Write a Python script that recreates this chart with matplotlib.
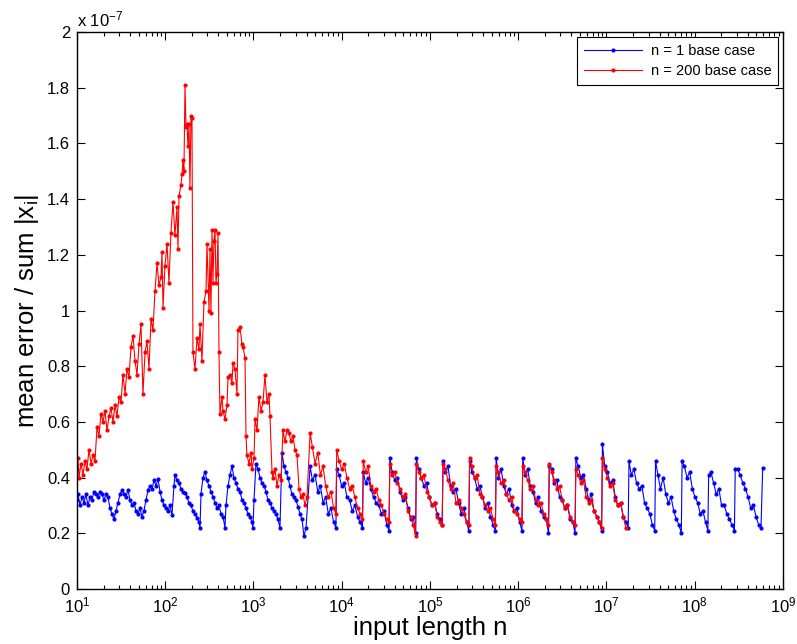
import numpy as np
import matplotlib
matplotlib.use("Agg")
import matplotlib.pyplot as plt
from matplotlib.ticker import FixedLocator, FormatStrFormatter, LogLocator

plt.rcParams['font.family'] = ['Liberation Sans', 'DejaVu Sans']
plt.rcParams['mathtext.fontset'] = 'custom'
plt.rcParams['mathtext.rm'] = 'Liberation Sans'
plt.rcParams['mathtext.it'] = 'Liberation Sans'

# log10 of input length n, and mean error / sum |x_i| in units of 1e-7
# n = 1 base case
blue_logn = [
    1.000, 1.011, 1.034, 1.057, 1.079, 1.102, 1.125, 1.147, 1.170, 1.193,
    1.215, 1.238, 1.261, 1.283, 1.306, 1.329, 1.351, 1.374, 1.397, 1.419,
    1.442, 1.465, 1.487, 1.510, 1.533, 1.555, 1.578, 1.601, 1.623, 1.646,
    1.669, 1.691, 1.714, 1.737, 1.759, 1.782, 1.805, 1.827, 1.850, 1.873,
    1.895, 1.918, 1.941, 1.963, 1.986, 2.008, 2.031, 2.054, 2.076, 2.099,
    2.110, 2.133, 2.156, 2.178, 2.201, 2.224, 2.246, 2.269, 2.292, 2.314,
    2.337, 2.360, 2.382, 2.394, 2.405, 2.428, 2.450, 2.473, 2.496, 2.518,
    2.541, 2.564, 2.586, 2.609, 2.632, 2.654, 2.677, 2.688, 2.711, 2.734,
    2.756, 2.779, 2.802, 2.824, 2.847, 2.870, 2.892, 2.915, 2.938, 2.960,
    2.983, 2.994, 3.006, 3.028, 3.051, 3.074, 3.096, 3.119, 3.142, 3.164,
    3.187, 3.210, 3.232, 3.255, 3.278, 3.300, 3.323, 3.346, 3.368, 3.391,
    3.414, 3.436, 3.459, 3.482, 3.504, 3.527, 3.550, 3.572, 3.595,
    3.642, 3.668, 3.698, 3.728, 3.758, 3.788, 3.818, 3.848, 3.878, 3.908, 3.934,
    3.943, 3.969, 3.999, 4.029, 4.059, 4.089, 4.119, 4.149, 4.179, 4.209, 4.235,
    4.244, 4.270, 4.300, 4.330, 4.360, 4.390, 4.420, 4.450, 4.480, 4.510, 4.536,
    4.545, 4.571, 4.601, 4.631, 4.661, 4.691, 4.721, 4.751, 4.781, 4.811, 4.837,
    4.846, 4.872, 4.902, 4.932, 4.962, 4.992, 5.022, 5.052, 5.082, 5.112, 5.138,
    5.148, 5.174, 5.204, 5.234, 5.264, 5.294, 5.324, 5.354, 5.384, 5.414, 5.440,
    5.449, 5.475, 5.505, 5.535, 5.565, 5.595, 5.625, 5.655, 5.685, 5.715, 5.741,
    5.750, 5.776, 5.806, 5.836, 5.866, 5.896, 5.926, 5.956, 5.986, 6.016, 6.042,
    6.051, 6.077, 6.107, 6.137, 6.167, 6.197, 6.227, 6.257, 6.287, 6.317, 6.343,
    6.352, 6.378, 6.408, 6.438, 6.468, 6.498, 6.528, 6.558, 6.588, 6.618, 6.644,
    6.653, 6.679, 6.709, 6.739, 6.769, 6.799, 6.829, 6.859, 6.889, 6.919, 6.945,
    6.954, 6.980, 7.010, 7.040, 7.070, 7.100, 7.130, 7.160, 7.190, 7.220, 7.246,
    7.255, 7.281, 7.311, 7.341, 7.371, 7.401, 7.431, 7.461, 7.491, 7.521, 7.547,
    7.556, 7.582, 7.612, 7.642, 7.672, 7.702, 7.732, 7.762, 7.792, 7.822, 7.848,
    7.857, 7.883, 7.913, 7.943, 7.973, 8.003, 8.033, 8.063, 8.093, 8.123, 8.149,
    8.158, 8.184, 8.214, 8.244, 8.274, 8.304, 8.334, 8.364, 8.394, 8.424, 8.450,
    8.459, 8.485, 8.515, 8.545, 8.575, 8.605, 8.635, 8.665, 8.695, 8.725, 8.751,
    8.770,
]
blue_err = [
    0.32, 0.34, 0.30, 0.33, 0.31, 0.34, 0.30, 0.33, 0.32, 0.35,
    0.34, 0.33, 0.35, 0.34, 0.32, 0.34, 0.33, 0.29, 0.27, 0.25,
    0.28, 0.31, 0.34, 0.355, 0.34, 0.33, 0.355, 0.32, 0.30, 0.31,
    0.28, 0.27, 0.29, 0.26, 0.28, 0.32, 0.355, 0.37, 0.36, 0.39,
    0.37, 0.395, 0.35, 0.32, 0.30, 0.29, 0.28, 0.30, 0.265, 0.37,
    0.41, 0.39, 0.38, 0.36, 0.35, 0.345, 0.33, 0.31, 0.30, 0.28,
    0.27, 0.255, 0.24, 0.22, 0.34, 0.40, 0.42, 0.39, 0.37, 0.35,
    0.33, 0.31, 0.29, 0.30, 0.27, 0.26, 0.22, 0.30, 0.37, 0.41,
    0.44, 0.40, 0.38, 0.36, 0.35, 0.32, 0.31, 0.29, 0.27, 0.26,
    0.24, 0.22, 0.32, 0.45, 0.43, 0.40, 0.38, 0.37, 0.35, 0.32,
    0.31, 0.29, 0.28, 0.27, 0.25, 0.22, 0.49, 0.44, 0.42, 0.40,
    0.37, 0.34, 0.33, 0.32, 0.295, 0.27, 0.25, 0.19, 0.22,
    0.44, 0.39, 0.41, 0.35, 0.37, 0.31, 0.33, 0.27, 0.29, 0.24, 0.22,
    0.43, 0.41, 0.37, 0.38, 0.33, 0.32, 0.28, 0.30, 0.26, 0.24, 0.22,
    0.42, 0.38, 0.40, 0.36, 0.33, 0.31, 0.30, 0.27, 0.28, 0.23, 0.21,
    0.47, 0.42, 0.39, 0.40, 0.35, 0.32, 0.33, 0.29, 0.25, 0.26, 0.20,
    0.47, 0.43, 0.40, 0.37, 0.38, 0.33, 0.30, 0.31, 0.27, 0.25, 0.23,
    0.46, 0.42, 0.44, 0.37, 0.35, 0.36, 0.31, 0.27, 0.29, 0.24, 0.21,
    0.46, 0.42, 0.40, 0.36, 0.37, 0.33, 0.29, 0.31, 0.26, 0.23, 0.21,
    0.47, 0.40, 0.43, 0.37, 0.34, 0.36, 0.30, 0.28, 0.29, 0.24, 0.21,
    0.47, 0.41, 0.43, 0.37, 0.35, 0.31, 0.33, 0.28, 0.26, 0.25, 0.20,
    0.44, 0.43, 0.38, 0.39, 0.33, 0.32, 0.29, 0.30, 0.25, 0.24, 0.20,
    0.47, 0.44, 0.40, 0.41, 0.36, 0.32, 0.34, 0.28, 0.26, 0.24, 0.21,
    0.52, 0.44, 0.42, 0.38, 0.39, 0.33, 0.30, 0.31, 0.26, 0.24, 0.22,
    0.46, 0.41, 0.43, 0.38, 0.36, 0.37, 0.31, 0.29, 0.27, 0.23, 0.21,
    0.46, 0.41, 0.36, 0.40, 0.34, 0.31, 0.33, 0.28, 0.25, 0.23, 0.20,
    0.46, 0.44, 0.40, 0.42, 0.36, 0.33, 0.31, 0.27, 0.28, 0.24, 0.21,
    0.41, 0.42, 0.38, 0.34, 0.36, 0.30, 0.30, 0.27, 0.25, 0.23, 0.21,
    0.43, 0.43, 0.41, 0.38, 0.36, 0.33, 0.29, 0.30, 0.26, 0.23, 0.22,
    0.435,
]

# n = 200 base case
red_logn = [
    1.000, 1.011, 1.023, 1.045, 1.068, 1.091, 1.113, 1.136, 1.159, 1.181,
    1.204, 1.227, 1.249, 1.272, 1.295, 1.317, 1.340, 1.363, 1.385, 1.408,
    1.431, 1.453, 1.476, 1.499, 1.521, 1.544, 1.567, 1.589, 1.612, 1.635,
    1.657, 1.680, 1.703, 1.725, 1.748, 1.771, 1.793, 1.816, 1.839, 1.861,
    1.884, 1.907, 1.929, 1.952, 1.963, 1.975, 1.997, 2.020, 2.042, 2.065,
    2.088, 2.110, 2.133, 2.144, 2.156, 2.178, 2.190, 2.201, 2.212, 2.224,
    2.235, 2.246, 2.258, 2.269, 2.280, 2.292, 2.303, 2.314, 2.337, 2.360,
    2.382, 2.394, 2.416, 2.439, 2.462, 2.473, 2.496, 2.507, 2.518, 2.530,
    2.541, 2.552, 2.564, 2.575, 2.586, 2.598, 2.609, 2.620, 2.643, 2.654,
    2.677, 2.700, 2.711, 2.734, 2.756, 2.768, 2.790, 2.813, 2.824, 2.847,
    2.870, 2.881, 2.904, 2.915, 2.926, 2.949, 2.972, 2.983, 3.006, 3.017,
    3.040, 3.062, 3.085, 3.108, 3.130, 3.153, 3.176, 3.187, 3.210, 3.221,
    3.244, 3.266, 3.289, 3.312, 3.334, 3.357, 3.380, 3.402, 3.425, 3.448,
    3.470, 3.493, 3.516, 3.538, 3.561, 3.584, 3.606,
    3.642, 3.668, 3.698, 3.728, 3.758, 3.788, 3.818, 3.848, 3.878, 3.908, 3.934,
    3.943, 3.969, 3.999, 4.029, 4.059, 4.089, 4.119, 4.149, 4.179, 4.209, 4.235,
    4.244, 4.270, 4.300, 4.330, 4.360, 4.390, 4.420, 4.450, 4.480, 4.510, 4.536,
    4.545, 4.571, 4.601, 4.631, 4.661, 4.691, 4.721, 4.751, 4.781, 4.811, 4.837,
    4.846, 4.872, 4.902, 4.932, 4.962, 4.992, 5.022, 5.052, 5.082, 5.112, 5.138,
    5.148, 5.174, 5.204, 5.234, 5.264, 5.294, 5.324, 5.354, 5.384, 5.414, 5.440,
    5.449, 5.475, 5.505, 5.535, 5.565, 5.595, 5.625, 5.655, 5.685, 5.715, 5.741,
    5.750, 5.776, 5.806, 5.836, 5.866, 5.896, 5.926, 5.956, 5.986, 6.016, 6.042,
    6.051, 6.077, 6.107, 6.137, 6.167, 6.197, 6.227, 6.257, 6.287, 6.317, 6.343,
    6.352, 6.378, 6.408, 6.438, 6.468, 6.498, 6.528, 6.558, 6.588, 6.618, 6.644,
    6.653, 6.679, 6.709, 6.739, 6.769, 6.799, 6.829, 6.859, 6.889, 6.919, 6.945,
    6.954, 6.980, 7.010, 7.040, 7.070, 7.100, 7.130, 7.160, 7.190, 7.220,
]
red_err = [
    0.43, 0.47, 0.40, 0.45, 0.41, 0.46, 0.43, 0.50, 0.45, 0.48,
    0.46, 0.58, 0.55, 0.63, 0.60, 0.64, 0.57, 0.62, 0.65, 0.60,
    0.66, 0.62, 0.69, 0.67, 0.77, 0.70, 0.79, 0.76, 0.87, 0.91,
    0.82, 0.77, 0.88, 0.95, 0.70, 0.85, 0.89, 0.79, 0.97, 0.93,
    1.07, 1.17, 1.09, 1.12, 1.21, 1.01, 1.16, 1.24, 1.10, 1.28,
    1.39, 1.27, 1.37, 1.22, 1.41, 1.45, 1.49, 1.54, 1.50, 1.81,
    1.66, 1.67, 1.59, 1.67, 1.44, 1.70, 1.69, 0.85, 0.79, 0.90,
    0.86, 0.95, 0.82, 1.03, 1.07, 1.24, 1.00, 1.22, 0.99, 1.29,
    1.10, 1.25, 1.29, 1.10, 1.13, 1.28, 0.85, 0.63, 0.69, 0.64,
    0.61, 0.66, 0.76, 0.77, 0.74, 0.81, 0.79, 0.70, 0.93, 0.94,
    0.88, 0.87, 0.83, 0.55, 0.48, 0.45, 0.49, 0.43, 0.47, 0.61,
    0.57, 0.69, 0.64, 0.67, 0.77, 0.67, 0.70, 0.62, 0.42, 0.40,
    0.43, 0.37, 0.41, 0.39, 0.57, 0.53, 0.57, 0.56, 0.53, 0.55,
    0.50, 0.48, 0.36, 0.33, 0.34, 0.30, 0.33,
    0.56, 0.51, 0.45, 0.49, 0.41, 0.44, 0.37, 0.33, 0.35, 0.29, 0.27,
    0.50, 0.46, 0.43, 0.45, 0.40, 0.36, 0.37, 0.33, 0.29, 0.27, 0.25,
    0.46, 0.42, 0.44, 0.37, 0.35, 0.36, 0.32, 0.30, 0.27, 0.25, 0.24,
    0.45, 0.41, 0.42, 0.38, 0.36, 0.33, 0.34, 0.28, 0.26, 0.23, 0.19,
    0.45, 0.42, 0.40, 0.41, 0.35, 0.33, 0.30, 0.31, 0.26, 0.24, 0.23,
    0.45, 0.43, 0.39, 0.36, 0.38, 0.31, 0.32, 0.29, 0.27, 0.24, 0.23,
    0.47, 0.44, 0.40, 0.41, 0.34, 0.33, 0.30, 0.28, 0.29, 0.25, 0.23,
    0.44, 0.42, 0.38, 0.39, 0.34, 0.32, 0.33, 0.28, 0.27, 0.25, 0.24,
    0.44, 0.42, 0.39, 0.36, 0.37, 0.32, 0.30, 0.31, 0.27, 0.25, 0.23,
    0.45, 0.42, 0.39, 0.36, 0.37, 0.32, 0.29, 0.30, 0.26, 0.24, 0.23,
    0.43, 0.41, 0.38, 0.39, 0.33, 0.31, 0.32, 0.28, 0.26, 0.24, 0.22,
    0.47, 0.43, 0.40, 0.37, 0.38, 0.32, 0.30, 0.31, 0.26, 0.22,
]

y_ticks = [0, 0.2, 0.4, 0.6, 0.8, 1, 1.2, 1.4, 1.6, 1.8, 2]
x_ticks = [1e1, 1e2, 1e3, 1e4, 1e5, 1e6, 1e7, 1e8, 1e9]

fig = plt.figure(figsize=(7.97, 6.44), dpi=100)
ax = fig.add_axes([0.0966, 0.0854, 0.8858, 0.8649])

ax.plot(10 ** np.array(blue_logn), blue_err, '.-', color=(0, 0, 1),
        lw=0.8, ms=4, label='n = 1 base case')
ax.plot(10 ** np.array(red_logn), red_err, '.-', color=(1, 0, 0),
        lw=0.8, ms=4, label='n = 200 base case')

ax.set_xscale('log')
ax.set_xlim(10, 1e9)
ax.set_ylim(0, 2)
ax.xaxis.set_major_locator(FixedLocator(x_ticks))
ax.xaxis.set_minor_locator(LogLocator(base=10, subs=np.arange(2, 10), numticks=20))
ax.yaxis.set_major_locator(FixedLocator(y_ticks))
ax.yaxis.set_major_formatter(FormatStrFormatter('%g'))

ax.tick_params(which='both', direction='in', top=True, right=True,
               labelsize=12, width=0.8)
ax.tick_params(which='major', length=6, pad=5)
ax.tick_params(which='minor', length=3)
for s in ax.spines.values():
    s.set_linewidth(1.0)

ax.text(0.0, 1.005, r'x 10$^{-7}$', transform=ax.transAxes,
        ha='left', va='bottom', fontsize=12)

ax.set_xlabel('input length n', fontsize=18.5, labelpad=0)
ax.set_ylabel(r'mean error / sum |x$_\mathregular{i}$|', fontsize=18.5, labelpad=4)

leg = ax.legend(loc='upper right', fontsize=10.5, frameon=True, fancybox=False,
                framealpha=1, edgecolor='black', borderaxespad=0.35,
                handlelength=4.0, borderpad=0.45, labelspacing=0.45,
                handletextpad=0.6)
leg.get_frame().set_linewidth(0.8)

fig.savefig('out.png', dpi=100)
